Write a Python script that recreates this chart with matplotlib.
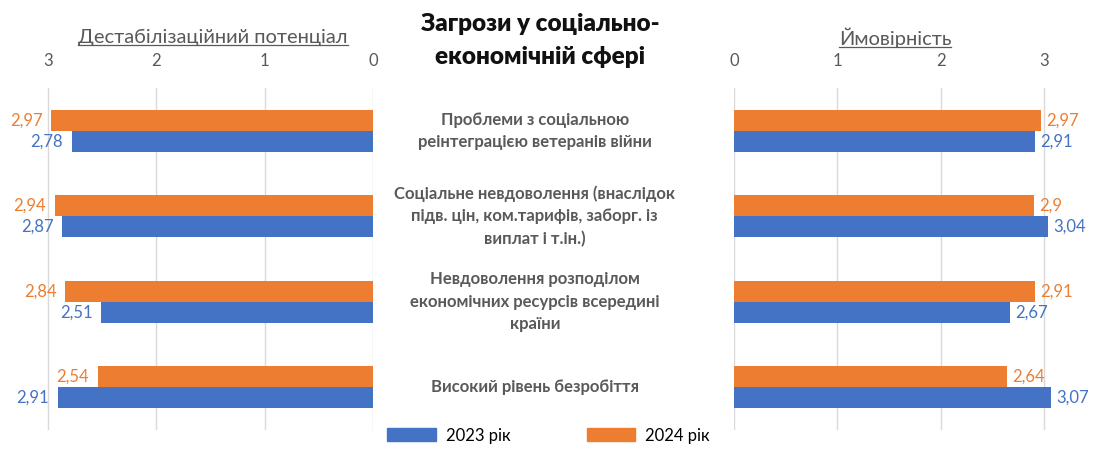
import matplotlib.pyplot as plt
import matplotlib.patches as mpatches
import numpy as np

plt.rcParams['font.family'] = ['Lato', 'DejaVu Sans']

# Données des menaces
menaces = ['Проблеми з соціальною\nреінтеграцією ветеранів війни',
           'Соціальне невдоволення (внаслідок\nпідв. цін, ком.тарифів, заборг. із\nвиплат і т.ін.)',
           'Невдоволення розподілом\nекономічних ресурсів всередині\nкраїни',
           'Високий рівень безробіття']
potentiel_2023 = [2.78, 2.87, 2.51, 2.91]  # Дестабілізаційний потенціал, 2023
potentiel_2024 = [2.97, 2.94, 2.84, 2.54]  # Дестабілізаційний потенціал, 2024
proba_2023 = [2.91, 3.04, 2.67, 3.07]  # Ймовірність, 2023
proba_2024 = [2.97, 2.90, 2.91, 2.64]  # Ймовірність, 2024

bleu = '#4472C4'
orange = '#ED7D31'
gris = '#595959'
y = np.arange(len(menaces))
h = 0.245

# Création du graphique
fig = plt.figure(figsize=(10.97, 4.49), dpi=100)

# Panneau de gauche : potentiel de déstabilisation
ax_g = plt.axes([0.0142, 0.042, 0.3258, 0.762])
plt.barh(y - h / 2, potentiel_2024, height=h, color=orange)
plt.barh(y + h / 2, potentiel_2023, height=h, color=bleu)
for i in range(len(menaces)):
    plt.text(potentiel_2024[i] + 0.08, y[i] - h / 2, f"{potentiel_2024[i]:g}".replace('.', ','),
             ha='right', va='center', color=orange, fontsize=12)
    plt.text(potentiel_2023[i] + 0.08, y[i] + h / 2, f"{potentiel_2023[i]:g}".replace('.', ','),
             ha='right', va='center', color=bleu, fontsize=12)
plt.xlim(3.3, 0)
plt.ylim(3.5, -0.5)
plt.xticks([3, 2, 1, 0])
plt.yticks([])
ax_g.xaxis.tick_top()
ax_g.tick_params(axis='x', length=0, colors=gris, labelsize=12, pad=14)
ax_g.grid(axis='x', color='#D9D9D9', linewidth=1)
ax_g.set_axisbelow(True)
for s in ax_g.spines.values():
    s.set_visible(False)
lab_g = fig.text(0.194, 0.917, 'Дестабілізаційний потенціал', ha='center', va='center', color=gris, fontsize=14.5)

# Panneau de droite : probabilité
ax_d = plt.axes([0.669, 0.042, 0.311, 0.762])
plt.barh(y - h / 2, proba_2024, height=h, color=orange)
plt.barh(y + h / 2, proba_2023, height=h, color=bleu)
for i in range(len(menaces)):
    plt.text(proba_2024[i] + 0.05, y[i] - h / 2, f"{proba_2024[i]:g}".replace('.', ','),
             ha='left', va='center', color=orange, fontsize=12)
    plt.text(proba_2023[i] + 0.05, y[i] + h / 2, f"{proba_2023[i]:g}".replace('.', ','),
             ha='left', va='center', color=bleu, fontsize=12)
plt.xlim(0, 3.3)
plt.ylim(3.5, -0.5)
plt.xticks([0, 1, 2, 3])
plt.yticks([])
ax_d.xaxis.tick_top()
ax_d.tick_params(axis='x', length=0, colors=gris, labelsize=12, pad=14)
ax_d.grid(axis='x', color='#D9D9D9', linewidth=1)
ax_d.set_axisbelow(True)
for s in ax_d.spines.values():
    s.set_visible(False)
lab_d = fig.text(0.816, 0.917, 'Ймовірність', ha='center', va='center', color=gris, fontsize=14.5)

# Noms des menaces au centre
for i, txt in enumerate(menaces):
    plt.annotate(txt, xy=(0.4875, y[i]), xycoords=('figure fraction', 'data'),
                 ha='center', va='center', color=gris, fontsize=12, fontweight='bold', linespacing=1.5)

# Titre
fig.text(0.4925, 0.91, 'Загрози у соціально-\nекономічній сфері', ha='center', va='center',
         fontsize=17.5, fontweight='heavy', color='#111111', linespacing=1.6)

# Légende
poignees = [mpatches.Patch(color=bleu, label='2023 рік'), mpatches.Patch(color=orange, label='2024 рік')]
fig.legend(handles=poignees, loc='center', bbox_to_anchor=(0.5, 0.03), ncol=2, frameon=False,
           fontsize=12, handlelength=2.9, handleheight=0.8, columnspacing=4.6, handletextpad=0.6)

# Soulignement des titres d'axes
fig.canvas.draw()
rend = fig.canvas.get_renderer()
for t in (lab_g, lab_d):
    bb = t.get_window_extent(rend).transformed(fig.transFigure.inverted())
    fig.add_artist(plt.Line2D([bb.x0, bb.x1], [bb.y0 + 0.002, bb.y0 + 0.002], color=gris, linewidth=0.9,
                              transform=fig.transFigure))

# Enregistrement du graphique
plt.savefig('out.png', dpi=100)
